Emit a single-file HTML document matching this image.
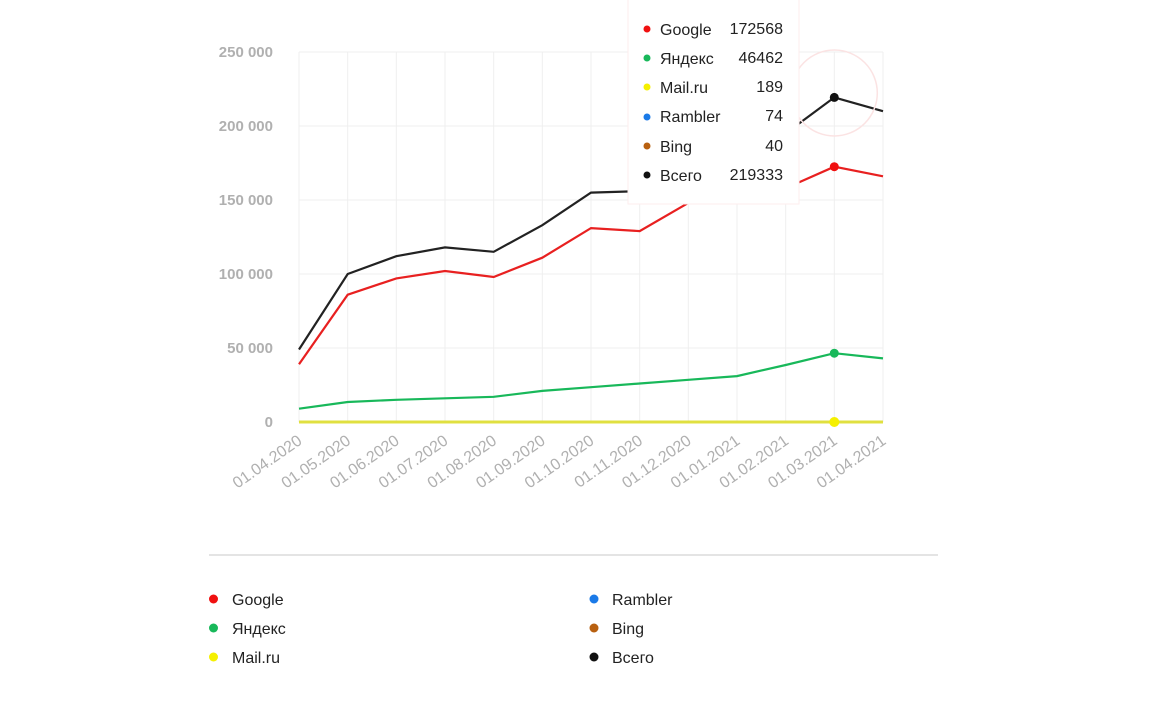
<!DOCTYPE html>
<html><head><meta charset="utf-8"><style>
body{margin:0;background:#fff;width:1152px;height:699px;overflow:hidden;font-family:"Liberation Sans","DejaVu Sans",sans-serif;}
</style></head><body>
<svg width="1152" height="699" xmlns="http://www.w3.org/2000/svg" font-family="Liberation Sans, DejaVu Sans, sans-serif">
<g stroke="#efefef" stroke-width="1">
<line x1="299" y1="52" x2="883" y2="52"/><line x1="299" y1="126" x2="883" y2="126"/><line x1="299" y1="200" x2="883" y2="200"/><line x1="299" y1="274" x2="883" y2="274"/><line x1="299" y1="348" x2="883" y2="348"/>
<line x1="299" y1="52" x2="299" y2="422"/><line x1="347.7" y1="52" x2="347.7" y2="422"/><line x1="396.3" y1="52" x2="396.3" y2="422"/><line x1="445" y1="52" x2="445" y2="422"/><line x1="493.7" y1="52" x2="493.7" y2="422"/><line x1="542.3" y1="52" x2="542.3" y2="422"/><line x1="591" y1="52" x2="591" y2="422"/><line x1="639.7" y1="52" x2="639.7" y2="422"/><line x1="688.3" y1="52" x2="688.3" y2="422"/><line x1="737" y1="52" x2="737" y2="422"/><line x1="785.7" y1="52" x2="785.7" y2="422"/><line x1="834.3" y1="52" x2="834.3" y2="422"/><line x1="883" y1="52" x2="883" y2="422"/>
</g>
<g fill="#b0b0b0" font-size="15" font-weight="bold" text-anchor="end">
<text x="273" y="57">250 000</text><text x="273" y="131">200 000</text><text x="273" y="205">150 000</text><text x="273" y="279">100 000</text><text x="273" y="353">50 000</text><text x="273" y="427">0</text>
</g>
<g fill="#b0b0b0" font-size="16" text-anchor="end">
<text transform="translate(303,443) rotate(-35)">01.04.2020</text>
<text transform="translate(351.7,443) rotate(-35)">01.05.2020</text>
<text transform="translate(400.3,443) rotate(-35)">01.06.2020</text>
<text transform="translate(449,443) rotate(-35)">01.07.2020</text>
<text transform="translate(497.7,443) rotate(-35)">01.08.2020</text>
<text transform="translate(546.3,443) rotate(-35)">01.09.2020</text>
<text transform="translate(595,443) rotate(-35)">01.10.2020</text>
<text transform="translate(643.7,443) rotate(-35)">01.11.2020</text>
<text transform="translate(692.3,443) rotate(-35)">01.12.2020</text>
<text transform="translate(741,443) rotate(-35)">01.01.2021</text>
<text transform="translate(789.7,443) rotate(-35)">01.02.2021</text>
<text transform="translate(838.3,443) rotate(-35)">01.03.2021</text>
<text transform="translate(887,443) rotate(-35)">01.04.2021</text>
</g>
<line x1="299" y1="422" x2="883" y2="422" stroke="#e0e040" stroke-width="3"/>
<polyline fill="none" stroke="#18b85a" stroke-width="2.2" points="299,408.7 347.7,402 396.3,399.8 445,398.3 493.7,396.8 542.3,390.9 591,387.2 639.7,383.5 688.3,379.8 737,376.1 785.7,365 834.3,353.2 883,358.4"/>
<polyline fill="none" stroke="#e82020" stroke-width="2.2" points="299,364.3 347.7,294.7 396.3,278.4 445,271 493.7,277 542.3,257.7 591,228.1 639.7,231.1 688.3,202.9 737,200 785.7,188.2 834.3,166.7 883,176.3"/>
<polyline fill="none" stroke="#222" stroke-width="2.2" points="299,349.5 347.7,274 396.3,256.2 445,247.4 493.7,251.8 542.3,225.2 591,192.6 639.7,191.1 688.3,177.8 737,163 785.7,133.4 834.3,97.4 883,111.2"/>
<circle cx="834.3" cy="93" r="43" fill="none" stroke="#fbe3e3" stroke-width="1.5"/>
<circle cx="834.3" cy="97.4" r="4.5" fill="#111"/>
<circle cx="834.3" cy="166.7" r="4.5" fill="#f01010"/>
<circle cx="834.3" cy="353.2" r="4.5" fill="#18b85a"/>
<circle cx="834.3" cy="422" r="5" fill="#f5f000"/>
<rect x="628" y="-5" width="171" height="209" fill="#fff" stroke="#fdeeee" stroke-width="1"/>
<g font-size="16" fill="#222">
<circle cx="647" cy="29" r="3.5" fill="#f01010"/><text x="660" y="35">Google</text><text x="783" y="34" text-anchor="end">172568</text>
<circle cx="647" cy="58" r="3.5" fill="#18b85a"/><text x="660" y="64">Яндекс</text><text x="783" y="63" text-anchor="end">46462</text>
<circle cx="647" cy="87" r="3.5" fill="#f5f000"/><text x="660" y="93">Mail.ru</text><text x="783" y="92" text-anchor="end">189</text>
<circle cx="647" cy="117" r="3.5" fill="#1a7ae8"/><text x="660" y="122">Rambler</text><text x="783" y="121" text-anchor="end">74</text>
<circle cx="647" cy="146" r="3.5" fill="#b86010"/><text x="660" y="152">Bing</text><text x="783" y="151" text-anchor="end">40</text>
<circle cx="647" cy="175" r="3.5" fill="#111"/><text x="660" y="181">Всего</text><text x="783" y="180" text-anchor="end">219333</text>
</g>
<line x1="209" y1="555" x2="938" y2="555" stroke="#e4e4e4" stroke-width="2"/>
<g font-size="16" fill="#222">
<circle cx="213.5" cy="599" r="4.5" fill="#f01010"/><text x="232" y="605">Google</text>
<circle cx="213.5" cy="628" r="4.5" fill="#18b85a"/><text x="232" y="634">Яндекс</text>
<circle cx="213.5" cy="657" r="4.5" fill="#f5f000"/><text x="232" y="663">Mail.ru</text>
<circle cx="594" cy="599" r="4.5" fill="#1a7ae8"/><text x="612" y="605">Rambler</text>
<circle cx="594" cy="628" r="4.5" fill="#b86010"/><text x="612" y="634">Bing</text>
<circle cx="594" cy="657" r="4.5" fill="#111"/><text x="612" y="663">Всего</text>
</g>
</svg>
</body></html>
